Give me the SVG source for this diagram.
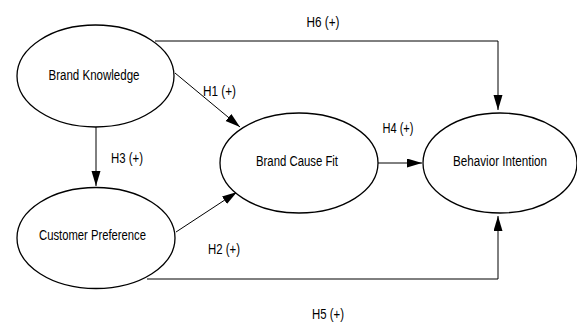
<svg xmlns="http://www.w3.org/2000/svg" width="577" height="322" viewBox="0 0 577 322">
<style>
.node ellipse{fill:#fff;stroke:#000;stroke-width:1.3}
text{font-family:"Liberation Sans",Arial,sans-serif;font-size:15.5px;fill:#000;text-anchor:middle}
.conn path{fill:none;stroke:#000;stroke-width:1;marker-end:url(#ah)}
</style>
<defs>
<marker id="ah" markerUnits="userSpaceOnUse" markerWidth="16" markerHeight="10" refX="15" refY="4.5" orient="auto">
<path d="M0,0 L15,4.5 L0,9 Z" fill="#000"/>
</marker>
</defs>
<g id="connectors" class="conn">
<path d="M155,41 H498 V110"/>
<path d="M147,279 H498 V216"/>
<path d="M175,73 L240,127"/>
<path d="M176,232 L237,192"/>
<path d="M96,127 V186"/>
<path d="M378,163 H422"/>
</g>
<g id="labels">
<text x="323" y="26.5" textLength="33" lengthAdjust="spacingAndGlyphs">H6 (+)</text>
<text x="219.5" y="96" textLength="33" lengthAdjust="spacingAndGlyphs">H1 (+)</text>
<text x="127" y="162.5" textLength="32" lengthAdjust="spacingAndGlyphs">H3 (+)</text>
<text x="398" y="133" textLength="31" lengthAdjust="spacingAndGlyphs">H4 (+)</text>
<text x="224" y="253.5" textLength="32" lengthAdjust="spacingAndGlyphs">H2 (+)</text>
<text x="328" y="318.5" textLength="32" lengthAdjust="spacingAndGlyphs">H5 (+)</text>
</g>
<g id="brand-knowledge" class="node">
<ellipse cx="95.5" cy="76" rx="78.5" ry="51"/>
<text x="94" y="79.5" textLength="91" lengthAdjust="spacingAndGlyphs">Brand Knowledge</text>
</g>
<g id="customer-preference" class="node">
<ellipse cx="96" cy="238" rx="79" ry="50.5"/>
<text x="92.5" y="239.5" textLength="107" lengthAdjust="spacingAndGlyphs">Customer Preference</text>
</g>
<g id="brand-cause-fit" class="node">
<ellipse cx="299" cy="163" rx="79" ry="50"/>
<text x="297" y="165.5" textLength="82" lengthAdjust="spacingAndGlyphs">Brand Cause Fit</text>
</g>
<g id="behavior-intention" class="node">
<ellipse cx="500" cy="163" rx="77" ry="50"/>
<text x="500" y="165.5" textLength="94" lengthAdjust="spacingAndGlyphs">Behavior Intention</text>
</g>
</svg>
